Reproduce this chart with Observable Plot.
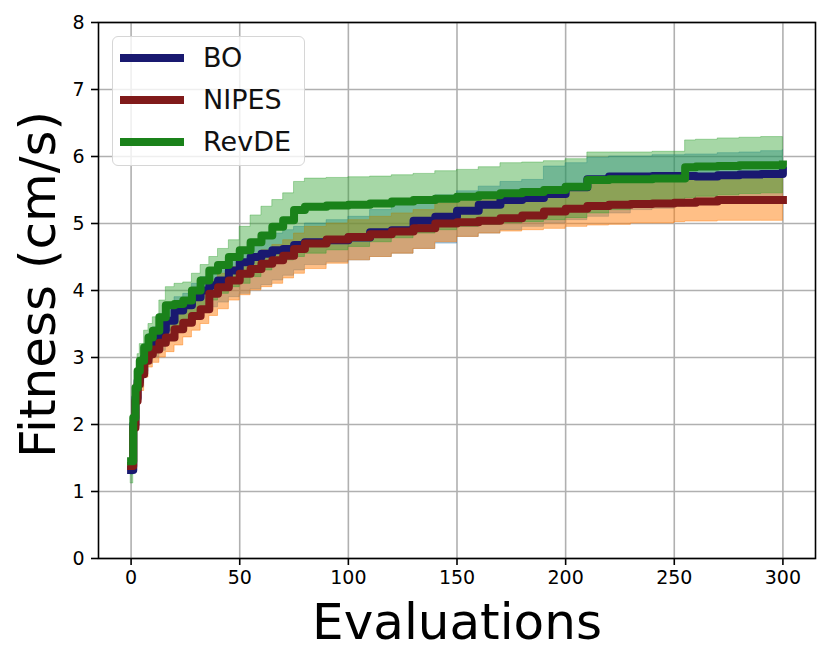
<!DOCTYPE html>
<html>
<head>
<meta charset="utf-8">
<script src="https://cdn.jsdelivr.net/npm/d3@7"></script>
<script src="https://cdn.jsdelivr.net/npm/@observablehq/plot@0.6"></script>
<style>
  html, body { margin: 0; padding: 0; background: white; }
  #wrap { position: relative; width: 831px; height: 662px; font-family: "DejaVu Sans", sans-serif; }
  #legend { position: absolute; left: 112px; top: 36px; width: 193px; height: 130px;
    background: rgba(255,255,255,0.8); border: 1.5px solid #d6d6d6; border-radius: 6px; box-sizing: border-box; }
  .item { position: absolute; left: 0; height: 32px; }
  .swatch { position: absolute; left: 7px; width: 64px; height: 8px; }
  .lab { position: absolute; left: 90px; font-size: 27px; line-height: 32px; color: #111; white-space: nowrap; }
</style>
</head>
<body>
<div id="wrap">
  <div id="chart"></div>
  <div id="legend"></div>
</div>
<script>
const series = ["BO", "NIPES", "RevDE"];
const lineColors = ["#191970", "#801a1a", "#1a821a"];
const bandColors = ["#1f77b4", "#ff7f0e", "#2ca02c"];
const bandOpacity = [0.4, 0.5, 0.42];

const evals = [0,1,2,3,4,6,8,10,13,16,20,24,28,32,36,40,45,50,55,60,65,70,75,80,90,100,110,120,130,140,150,160,170,180,190,200,210,220,230,240,250,255,260,270,280,290,300];

const boMean = [1.32,2.0,2.4,2.65,2.8,3.0,3.15,3.25,3.4,3.55,3.7,3.78,3.9,4.0,4.08,4.15,4.3,4.42,4.5,4.55,4.6,4.62,4.68,4.72,4.75,4.79,4.87,4.9,5.04,5.1,5.19,5.28,5.35,5.38,5.44,5.54,5.66,5.7,5.7,5.71,5.71,5.71,5.7,5.72,5.73,5.74,5.79];
const boLo = [1.25,1.8,2.15,2.4,2.55,2.75,2.9,3.0,3.1,3.25,3.4,3.5,3.6,3.68,3.75,3.82,3.9,3.95,4.02,4.08,4.15,4.22,4.3,4.38,4.42,4.45,4.5,4.55,4.62,4.7,4.8,4.85,4.9,4.95,5.0,5.05,5.1,5.15,5.2,5.22,5.25,5.27,5.3,5.32,5.35,5.38,5.4];
const boHi = [1.4,2.2,2.6,2.85,3.0,3.2,3.35,3.45,3.65,3.8,3.9,3.95,4.1,4.2,4.3,4.4,4.5,4.62,4.7,4.78,4.85,4.9,4.95,5.0,5.05,5.1,5.2,5.28,5.35,5.42,5.48,5.55,5.62,5.65,5.85,5.9,5.98,6.0,6.0,6.02,6.02,6.03,6.03,6.05,6.06,6.08,6.1];

const nipesMean = [1.38,1.95,2.35,2.6,2.75,2.95,3.05,3.12,3.22,3.3,3.42,3.52,3.62,3.72,3.95,4.05,4.15,4.25,4.32,4.4,4.45,4.52,4.62,4.7,4.76,4.8,4.84,4.88,4.93,5.0,5.02,5.04,5.08,5.12,5.18,5.22,5.26,5.28,5.29,5.3,5.31,5.31,5.33,5.35,5.35,5.35,5.35];
const nipesLo = [1.3,1.75,2.1,2.35,2.5,2.7,2.85,2.92,3.0,3.08,3.18,3.3,3.4,3.5,3.62,3.72,3.85,3.93,4.0,4.05,4.1,4.18,4.25,4.32,4.4,4.45,4.5,4.55,4.62,4.72,4.8,4.85,4.88,4.9,4.92,4.95,4.97,4.98,5.0,5.0,5.02,5.03,5.03,5.04,5.04,5.04,5.04];
const nipesHi = [1.45,2.1,2.5,2.75,2.9,3.1,3.25,3.35,3.45,3.55,3.7,3.8,3.9,4.0,4.15,4.25,4.35,4.45,4.5,4.6,4.68,4.75,4.85,4.95,5.0,5.05,5.1,5.15,5.2,5.3,5.38,5.42,5.45,5.48,5.52,5.55,5.6,5.62,5.63,5.64,5.65,5.66,5.67,5.68,5.68,5.7,5.7];

const revdeMean = [1.45,2.1,2.55,2.8,2.95,3.15,3.3,3.4,3.6,3.78,3.8,3.85,4.0,4.15,4.3,4.38,4.5,4.6,4.72,4.82,4.95,5.05,5.2,5.25,5.27,5.28,5.3,5.33,5.35,5.37,5.4,5.42,5.45,5.47,5.5,5.55,5.65,5.66,5.66,5.67,5.67,5.84,5.85,5.86,5.87,5.87,5.88];
const revdeLo = [1.12,1.7,2.2,2.5,2.65,2.85,3.0,3.1,3.25,3.4,3.45,3.55,3.65,3.75,3.85,3.95,4.05,4.1,4.2,4.3,4.4,4.45,4.5,4.55,4.6,4.65,4.72,4.78,4.85,4.9,4.95,4.98,5.0,5.02,5.05,5.08,5.15,5.2,5.25,5.3,5.35,5.38,5.4,5.42,5.44,5.45,5.45];
const revdeHi = [1.6,2.4,2.8,3.05,3.2,3.4,3.5,3.6,3.85,4.05,4.1,4.12,4.25,4.38,4.5,4.62,4.75,4.95,5.12,5.25,5.35,5.45,5.62,5.67,5.68,5.69,5.7,5.72,5.74,5.78,5.8,5.84,5.9,5.91,5.93,5.96,6.06,6.06,6.06,6.07,6.07,6.24,6.25,6.27,6.28,6.29,6.29];

const xTicks = [0,50,100,150,200,250,300];
const yTicks = [0,1,2,3,4,5,6,7,8];

const means = [boMean, nipesMean, revdeMean];
const los = [boLo, nipesLo, revdeLo];
const his = [boHi, nipesHi, revdeHi];

const rows = [];
series.forEach((s, i) => {
  evals.forEach((e, j) => {
    rows.push({series: s, idx: i, x: e, mean: means[i][j], lo: los[i][j], hi: his[i][j]});
  });
});

const bandMarks = series.map((s, i) =>
  Plot.areaY(rows.filter(d => d.series === s), {
    x: "x", y1: "lo", y2: "hi", curve: "step-after",
    fill: bandColors[i], fillOpacity: bandOpacity[i],
    stroke: bandColors[i], strokeOpacity: bandOpacity[i] * 0.9, strokeWidth: 1
  })
);
const lineMarks = series.map((s, i) =>
  Plot.lineY(rows.filter(d => d.series === s), {
    x: "x", y: "mean", curve: "step-after",
    stroke: lineColors[i], strokeWidth: 8,
    strokeLinecap: "square", strokeLinejoin: "round"
  })
);

const chart = Plot.plot({
  width: 831, height: 662,
  marginLeft: 98, marginRight: 16, marginTop: 22, marginBottom: 104,
  style: {fontFamily: "DejaVu Sans", fontSize: "19px", background: "white", color: "#000"},
  x: {domain: [-15, 315]},
  y: {domain: [0, 8]},
  marks: [
    Plot.gridX(xTicks, {stroke: "#b0b0b0", strokeOpacity: 1, strokeWidth: 1.6}),
    Plot.gridY(yTicks, {stroke: "#b0b0b0", strokeOpacity: 1, strokeWidth: 1.6}),
    ...bandMarks,
    ...lineMarks,
    Plot.frame({stroke: "#000", strokeWidth: 1.6}),
    Plot.axisX(xTicks, {tickSize: 7, tickPadding: 5, fontSize: 19, label: null, strokeWidth: 1.6, tickFormat: d => String(d)}),
    Plot.axisY(yTicks, {tickSize: 7, tickPadding: 7, fontSize: 19, label: null, strokeWidth: 1.6, tickFormat: d => String(d)}),
    Plot.text(["Evaluations"], {frameAnchor: "bottom", dy: 64, fontSize: 50, textAnchor: "middle", lineAnchor: "middle", fill: "#000"}),
    Plot.text(["Fitness (cm/s)"], {frameAnchor: "left", dx: -60, dy: -6, rotate: -90, fontSize: 50, textAnchor: "middle", lineAnchor: "middle", fill: "#000"})
  ]
});
document.getElementById("chart").appendChild(chart);

const legend = document.getElementById("legend");
series.forEach((s, i) => {
  const item = document.createElement("div");
  item.className = "item";
  item.style.top = (5 + i * 42) + "px";
  const sw = document.createElement("div");
  sw.className = "swatch";
  sw.style.background = lineColors[i];
  sw.style.top = "12px";
  const lab = document.createElement("div");
  lab.className = "lab";
  lab.style.top = "0px";
  lab.textContent = s;
  item.appendChild(sw);
  item.appendChild(lab);
  legend.appendChild(item);
});
</script>
</body>
</html>
